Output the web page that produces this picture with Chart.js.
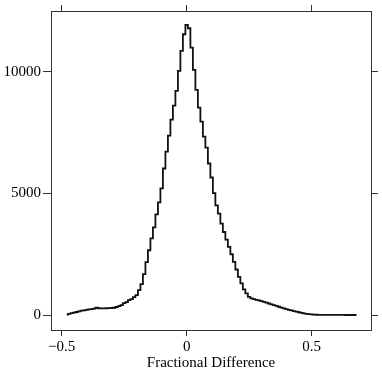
<!DOCTYPE html>
<html>
<head>
<meta charset="utf-8">
<script src="https://cdn.jsdelivr.net/npm/chart.js@4"></script>
<style>
  html, body { margin: 0; padding: 0; background: #fff; }
  #wrap { width: 382px; height: 376px; position: relative; }
</style>
</head>
<body>
<div id="wrap"><canvas id="chart"></canvas></div>
<script>
'use strict';

// histogram bins: first bin centre and width
const binStart = -0.48;
const binWidth = 0.01;

// counts per bin (-0.48 ... 0.68)
const counts = [
  15, 45, 75, 100, 125, 150, 180, 195, 215, 230,
  245, 265, 300, 280, 275, 275, 280, 285, 290, 300,
  330, 370, 410, 490, 533, 615, 656, 738, 820, 1025,
  1270, 1680, 2172, 2664, 3155, 3606, 4139, 4631, 5204, 6024,
  6721, 7376, 8032, 8606, 9220, 10040, 10860, 11545, 11925,
  11790, 10995, 10080, 9260, 8524, 7950, 7335, 6885, 6230, 5655,
  5012, 4508, 4168, 3758, 3414, 3102, 2799, 2500, 2184, 1873,
  1570, 1300, 1053, 889, 750, 684, 656, 625, 600, 570,
  545, 510, 475, 440, 410, 375, 340, 305, 275, 245,
  215, 190, 164, 140, 115, 90, 70, 50, 35, 24,
  16, 12, 10, 9, 8, 7, 6, 5, 5, 4,
  4, 3, 3, 2, 2, 2, 1, 1
];

const xTicks = [-0.5, 0, 0.5];
const yTicks = [0, 5000, 10000];
const xTitle = 'Fractional Difference';

const xMin = -0.543;
const xMax = 0.738;
const yMin = -615;
const yMax = 12500;

const serif = 'Liberation Serif';
const axisColor = '#333';

let points = [];
for (let i = 0; i < counts.length; i++) {
  points.push({ x: +(binStart + i * binWidth).toFixed(2), y: counts[i] });
}

function fmt(v) {
  return v < 0 ? '\u2212' + String(-v) : String(v);
}

function fixTicks(list) {
  return function (scale) {
    scale.ticks = list.map(v => ({ value: v }));
  };
}

function fixSize(prop, size) {
  return function (scale) {
    scale[prop] = size;
  };
}

const context = document.getElementById('chart').getContext('2d');

const chart = new Chart(context, { //eslint-disable-line
  type: 'line',
  data: {
    datasets: [{
      data: points,
      stepped: 'middle',
      borderColor: '#111',
      borderWidth: 1.8,
      pointRadius: 0,
      fill: false
    }]
  },
  options: {
    responsive: true,
    maintainAspectRatio: false,
    animation: false,
    layout: { padding: 0 },
    plugins: {
      legend: { display: false },
      tooltip: { enabled: false }
    },
    scales: {
      x: {
        type: 'linear',
        position: 'bottom',
        min: xMin,
        max: xMax,
        afterBuildTicks: fixTicks(xTicks),
        afterFit: fixSize('height', 46),
        border: { display: true, color: axisColor, width: 1 },
        grid: { drawOnChartArea: false, drawTicks: true, tickLength: 6, color: axisColor },
        ticks: {
          color: '#000',
          padding: 2,
          maxRotation: 0,
          font: { family: serif, size: 15 },
          callback: v => fmt(v)
        },
        title: {
          display: true,
          text: xTitle,
          color: '#000',
          font: { family: serif, size: 15 },
          padding: { top: 0, bottom: 4 }
        }
      },
      x2: {
        type: 'linear',
        position: 'top',
        min: xMin,
        max: xMax,
        afterBuildTicks: fixTicks(xTicks),
        afterFit: fixSize('height', 10),
        border: { display: true, color: axisColor, width: 1 },
        grid: { drawOnChartArea: false, drawTicks: true, tickLength: 6, color: axisColor },
        ticks: { display: false }
      },
      y: {
        type: 'linear',
        position: 'left',
        min: yMin,
        max: yMax,
        afterBuildTicks: fixTicks(yTicks),
        afterFit: fixSize('width', 51),
        border: { display: true, color: axisColor, width: 1 },
        grid: { drawOnChartArea: false, drawTicks: true, tickLength: 8, color: axisColor },
        ticks: {
          color: '#000',
          padding: 2,
          font: { family: serif, size: 15 },
          callback: v => fmt(v)
        }
      },
      y2: {
        type: 'linear',
        position: 'right',
        min: yMin,
        max: yMax,
        afterBuildTicks: fixTicks(yTicks),
        afterFit: fixSize('width', 11),
        border: { display: true, color: axisColor, width: 1 },
        grid: { drawOnChartArea: false, drawTicks: true, tickLength: 7, color: axisColor },
        ticks: { display: false }
      }
    }
  }
});
</script>
</body>
</html>
